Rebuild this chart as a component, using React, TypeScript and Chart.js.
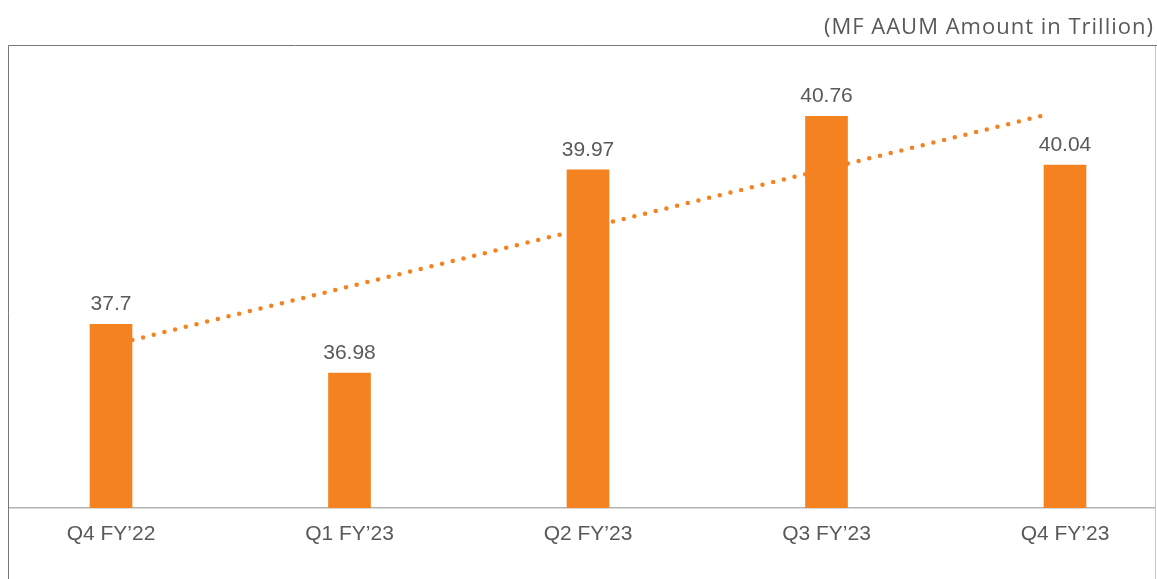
import React, { useEffect, useRef } from 'react';
import { Chart, registerables } from 'chart.js';

Chart.register(...registerables);

const categories = ['Q4 FY\u201922', 'Q1 FY\u201923', 'Q2 FY\u201923', 'Q3 FY\u201923', 'Q4 FY\u201923'];
const aaumValues = [37.7, 36.98, 39.97, 40.76, 40.04];
const valueLabels = ['37.7', '36.98', '39.97', '40.76', '40.04'];
const trendX = [0, 3.93];
const trendY = [37.39, 40.79];
const yRange = [35, 42];
const titleText = '(MF AAUM Amount in Trillion)';

const ORANGE = '#F58220';
const TEXT = '#595959';
const FONT = '"Liberation Sans", Arial, sans-serif';
const TITLE_FONT = '"Open Sans", "Liberation Sans", sans-serif';

const framePlugin = {
  id: 'frame',
  beforeDraw(chart: any) {
    const ctx = chart.ctx;
    ctx.save();
    ctx.fillStyle = '#ffffff';
    ctx.fillRect(0, 0, chart.width, chart.height);
    ctx.lineWidth = 1;
    ctx.strokeStyle = '#777777';
    ctx.beginPath();
    ctx.moveTo(8.5, chart.height);
    ctx.lineTo(8.5, 45.5);
    ctx.lineTo(chart.width, 45.5);
    ctx.stroke();
    ctx.strokeStyle = '#c6c6c6';
    ctx.beginPath();
    ctx.moveTo(1155.5, 46);
    ctx.lineTo(1155.5, chart.height);
    ctx.stroke();
    const y0 = chart.scales.y.getPixelForValue(yRange[0]);
    ctx.strokeStyle = '#b3b3b3';
    ctx.lineWidth = 1.5;
    ctx.beginPath();
    ctx.moveTo(9, y0);
    ctx.lineTo(1155, y0);
    ctx.stroke();
    ctx.font = '22px ' + TITLE_FONT;
    try { (ctx as any).letterSpacing = '1px'; } catch (e) {}
    ctx.fillStyle = TEXT;
    ctx.textAlign = 'right';
    ctx.textBaseline = 'alphabetic';
    ctx.fillText(titleText, 1154, 34);
    ctx.restore();
  },
  afterDatasetsDraw(chart: any) {
    const ctx = chart.ctx;
    const meta = chart.getDatasetMeta(0);
    ctx.save();
    ctx.font = '21px ' + FONT;
    ctx.fillStyle = TEXT;
    ctx.textAlign = 'center';
    ctx.textBaseline = 'alphabetic';
    meta.data.forEach((bar: any, i: number) => {
      ctx.fillText(valueLabels[i], bar.x, bar.y - 14);
    });
    ctx.restore();
  },
};

export default function App() {
  const canvasRef = useRef<HTMLCanvasElement | null>(null);

  useEffect(() => {
    if (!canvasRef.current) return;
    const chart = new Chart(canvasRef.current, {
      type: 'bar',
      data: {
        datasets: [
          {
            type: 'bar',
            label: 'MF AAUM',
            data: aaumValues.map((v, i) => ({ x: i, y: v })),
            backgroundColor: ORANGE,
            barThickness: 42,
            base: yRange[0],
            order: 0,
            clip: false,
          } as any,
          {
            type: 'line',
            label: 'Trend',
            data: trendX.map((x, i) => ({ x, y: trendY[i] })),
            borderColor: ORANGE,
            borderWidth: 4.5,
            borderDash: [0, 11],
            borderCapStyle: 'round',
            pointRadius: 0,
            fill: false,
            order: 1,
            clip: false,
          } as any,
        ],
      },
      options: {
        responsive: false,
        animation: false,
        events: [],
        layout: { padding: { left: 111, right: 92, top: 32, bottom: 0 } },
        plugins: {
          legend: { display: false },
          tooltip: { enabled: false },
          title: { display: false },
        },
        scales: {
          x: {
            type: 'linear',
            offset: false,
            min: 0,
            max: categories.length - 1,
            grid: { display: false, drawTicks: false, tickLength: 0, offset: false },
            border: { display: false },
            ticks: {
              color: TEXT,
              font: { family: FONT, size: 21 },
              padding: 14,
              maxRotation: 0,
              autoSkip: false,
              stepSize: 1,
              callback: (value: any) => categories[Math.round(Number(value))] ?? '',
            },
            afterFit: (scale: any) => {
              scale.height = 71.3;
            },
          },
          y: {
            display: false,
            min: yRange[0],
            max: yRange[1],
          },
        },
      } as any,
      plugins: [framePlugin],
    });
    return () => chart.destroy();
  }, []);

  return (
    <div style={{ position: 'absolute', left: 0, top: 0, width: 1157, height: 579 }}>
      <canvas ref={canvasRef} width={1157} height={579} style={{ display: 'block' }} />
    </div>
  );
}
